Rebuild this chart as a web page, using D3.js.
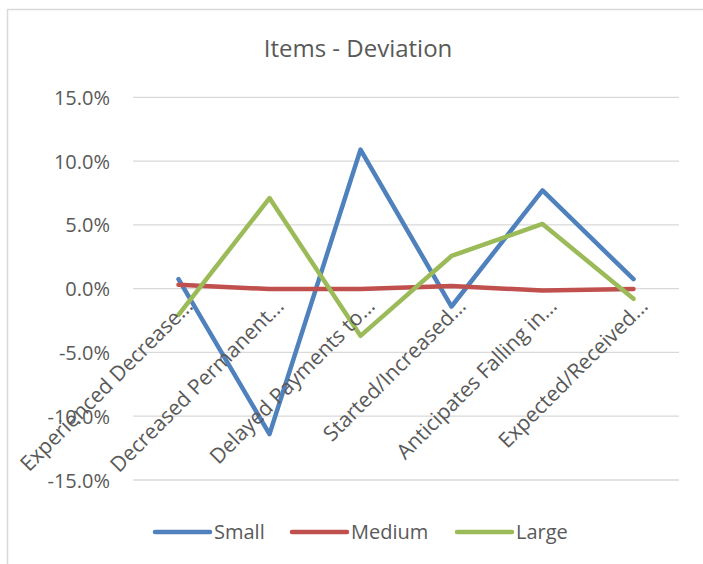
<!DOCTYPE html>
<html>
<head>
<meta charset="utf-8">
<script src="https://cdn.jsdelivr.net/npm/d3@7"></script>
<style>
  body { margin: 0; background: #fff; }
  svg text { font-family: "Open Sans", "Liberation Sans", sans-serif; fill: #595959; }
</style>
</head>
<body>
<div class="chart"></div>
<script>
const categories = ["Experienced Decrease...", "Decreased Permanent...", "Delayed Payments to...",
  "Started/Increased...", "Anticipates Falling in...", "Expected/Received..."];
const small = [0.0074, -0.114, 0.109, -0.014, 0.077, 0.0074];
const medium = [0.003, -0.0003, -0.0003, 0.002, -0.0015, -0.0003];
const large = [-0.0206, 0.071, -0.037, 0.0256, 0.0507, -0.008];
const yTicks = [0.15, 0.10, 0.05, 0, -0.05, -0.10, -0.15];

const series = [
  { name: "Small", values: small, color: "#4F81BD" },
  { name: "Medium", values: medium, color: "#C0504D" },
  { name: "Large", values: large, color: "#9BBB59" }
];

let w = 703, h = 564;
let svg = d3.select(".chart").append("svg").attr("width", w).attr("height", h);

// chart frame (only top and left edges show in the crop)
svg.append("path")
  .attr("d", "M7.5,564 L7.5,9.5 L703,9.5")
  .attr("fill", "none").attr("stroke", "#d9d9d9").attr("stroke-width", 1.5);

svg.append("text")
  .attr("x", 358).attr("y", 57)
  .attr("text-anchor", "middle")
  .attr("font-size", "24px")
  .text("Items - Deviation");

let x = d3.scaleBand().domain(categories).range([133, 679]);
let y = d3.scaleLinear().domain([-0.15, 0.15]).range([480, 97.3]);

// gridlines
svg.append("g").selectAll("line").data(yTicks).enter().append("line")
  .attr("x1", 133).attr("x2", 679)
  .attr("y1", d => y(d)).attr("y2", d => y(d))
  .attr("stroke", "#d9d9d9").attr("stroke-width", 1.3);

// y axis labels (hyphen minus like Excel)
let pct = d3.format(".1%");
let yAxis = svg.append("g").attr("transform", "translate(110,0)")
  .call(d3.axisLeft(y).tickValues(yTicks).tickFormat(d => pct(d).replace("\u2212", "-")).tickSize(0).tickPadding(0));
yAxis.select(".domain").remove();
yAxis.selectAll("text").attr("font-size", "20px").attr("fill", "#595959")
  .style("font-family", "\"Open Sans\", sans-serif").attr("dy", "0.35em");

// lines
let line = d3.line()
  .x((d, i) => x(categories[i]) + x.bandwidth() / 2)
  .y(d => y(d));

svg.append("g").selectAll("path").data(series).enter().append("path")
  .attr("d", d => line(d.values))
  .attr("fill", "none")
  .attr("stroke", d => d.color)
  .attr("stroke-width", 4.5)
  .attr("stroke-linejoin", "round")
  .attr("stroke-linecap", "round");

// category labels, rotated, drawn on top of lines like Excel
svg.append("g").selectAll("text").data(categories).enter().append("text")
  .attr("transform", d => "translate(" + (x(d) + x.bandwidth() / 2 + 5) + "," + (y(0) + 8) + ") rotate(-45)")
  .attr("text-anchor", "end")
  .attr("dy", "0.72em")
  .attr("font-size", "21px")
  .text(d => d);

// legend
let legendX = [155, 292, 457];
let legend = svg.append("g").selectAll("g").data(series).enter().append("g")
  .attr("transform", (d, i) => "translate(" + legendX[i] + ",532)");
legend.append("line")
  .attr("x1", 0).attr("x2", 55)
  .attr("stroke", d => d.color).attr("stroke-width", 4.5).attr("stroke-linecap", "round");
legend.append("text")
  .attr("x", 59).attr("dy", "0.35em")
  .attr("font-size", "20px")
  .text(d => d.name);
</script>
</body>
</html>
